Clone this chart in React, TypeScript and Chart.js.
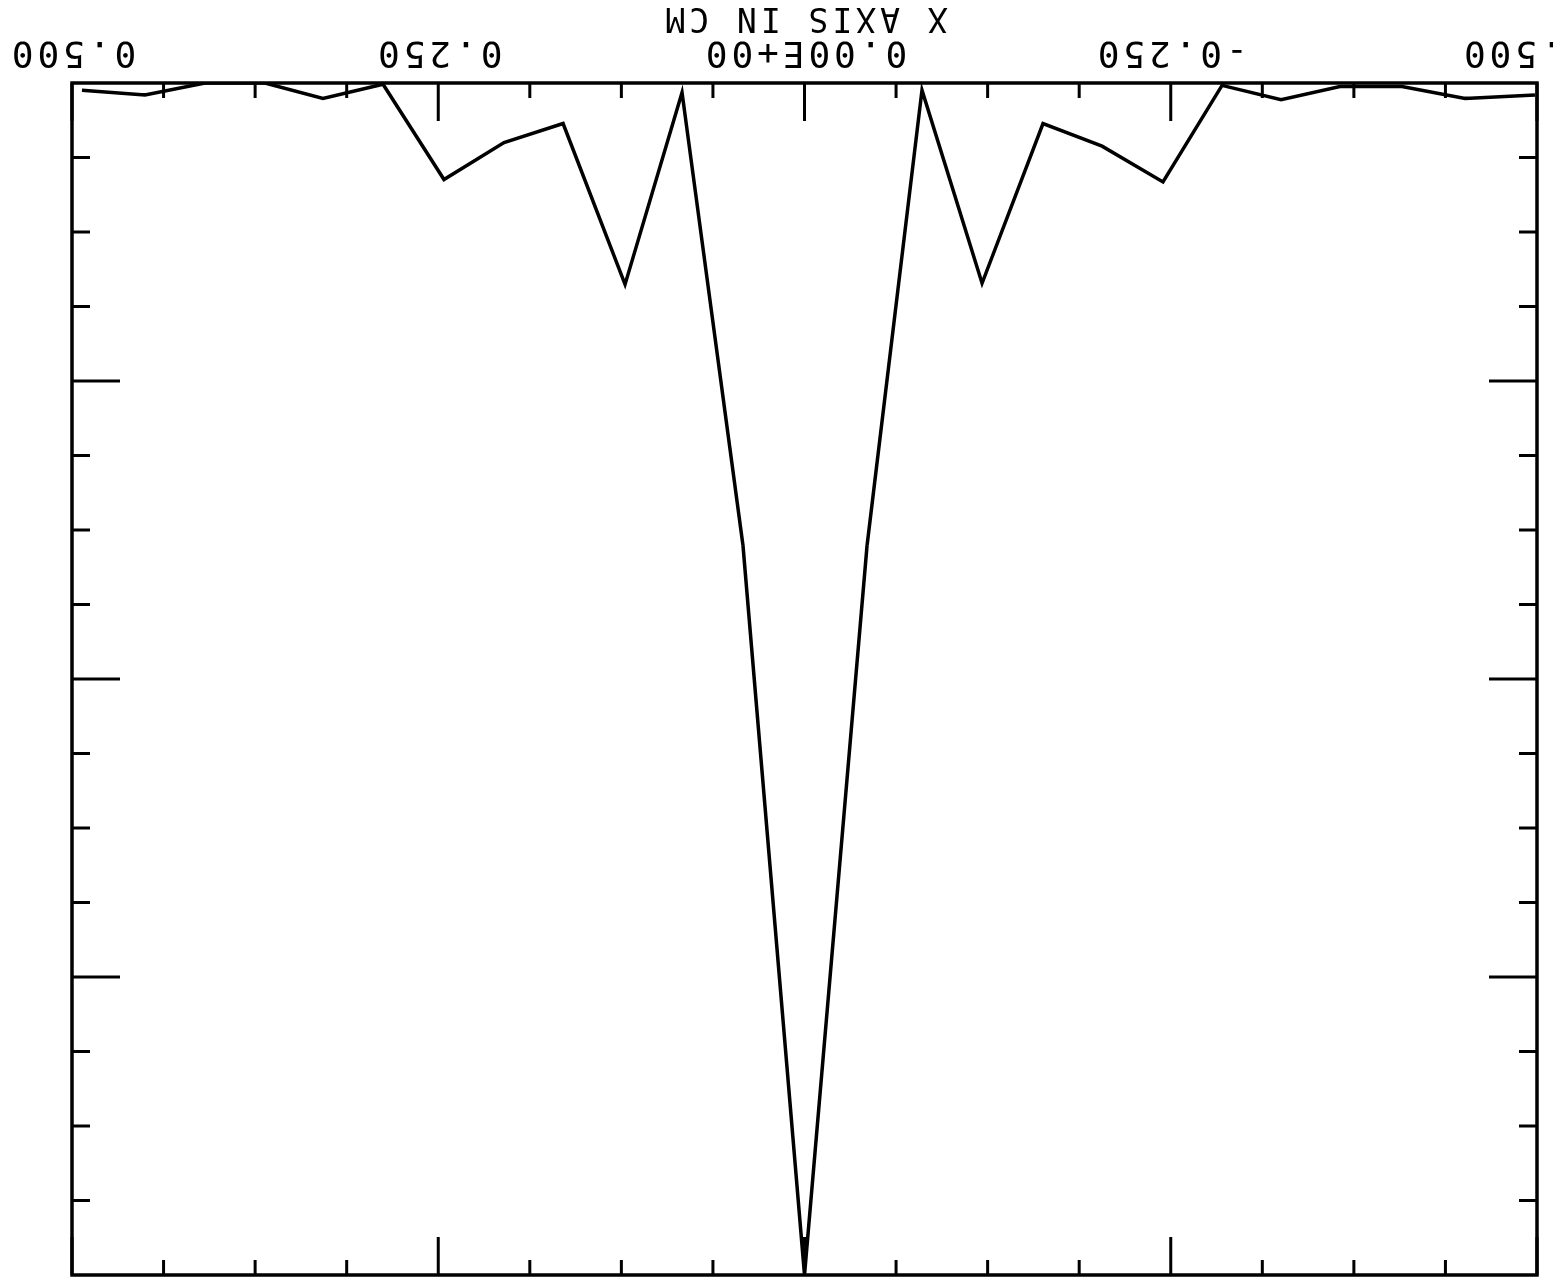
import React, { useEffect, useRef } from 'react';
import { Chart, registerables } from 'chart.js';

Chart.register(...registerables);

// Profile across the x axis (cm) – values read from the (upside-down) plot
const xPositions = [
  -0.4986, -0.4509, -0.4078, -0.3655, -0.3253, -0.285, -0.2447, -0.2031, -0.1628,
  -0.1212, -0.0802, -0.0427, 0.0, 0.042, 0.0836, 0.1225, 0.1648, 0.2051, 0.2461,
  0.2877, 0.3287, 0.3683, 0.4092, 0.4502, 0.4932,
];
const profileValues = [
  0.01, 0.013, 0.003, 0.003, 0.014, 0.002, 0.083, 0.053, 0.034, 0.168, 0.006,
  0.388, 1.0, 0.388, 0.008, 0.169, 0.034, 0.05, 0.081, 0.001, 0.013, 0.0, 0.0,
  0.01, 0.006,
];

const xMajorTicks = [-0.5, -0.25, 0, 0.25, 0.5];
const xTickLabels = ['-0.500', '-0.250', '0.00E+00', '0.250', '0.500'];
const xMinorTicks = [
  -0.4375, -0.375, -0.3125, -0.1875, -0.125, -0.0625, 0.0625, 0.125, 0.1875,
  0.3125, 0.375, 0.4375,
];
const yMajorTicks = [0.25, 0.5, 0.75];
const yMinorTicks = [
  0.0625, 0.125, 0.1875, 0.3125, 0.375, 0.4375, 0.5625, 0.625, 0.6875, 0.8125,
  0.875, 0.9375,
];
const xAxisTitle = 'X AXIS IN CM';

const FONT = "'DejaVu Sans Mono', monospace";

const framePlugin = {
  id: 'frameTicks',
  beforeDraw(chart: any) {
    chart.ctx.letterSpacing = '4px';
  },
  afterDatasetsDraw(chart: any) {
    const { ctx, chartArea: ca } = chart;
    const xs = chart.scales.x;
    const ys = chart.scales.y;
    ctx.save();
    ctx.strokeStyle = '#000';
    ctx.lineCap = 'butt';
    ctx.lineWidth = 3.5;
    ctx.strokeRect(ca.left, ca.top, ca.right - ca.left, ca.bottom - ca.top);
    ctx.lineWidth = 3;
    const xTick = (v: number, len: number) => {
      const px = xs.getPixelForValue(v);
      ctx.beginPath();
      ctx.moveTo(px, ca.bottom);
      ctx.lineTo(px, ca.bottom - len);
      ctx.moveTo(px, ca.top);
      ctx.lineTo(px, ca.top + len);
      ctx.stroke();
    };
    const yTick = (v: number, len: number) => {
      const py = ys.getPixelForValue(v);
      ctx.beginPath();
      ctx.moveTo(ca.left, py);
      ctx.lineTo(ca.left + len, py);
      ctx.moveTo(ca.right, py);
      ctx.lineTo(ca.right - len, py);
      ctx.stroke();
    };
    xMinorTicks.forEach((v) => xTick(v, 15));
    xMajorTicks.forEach((v) => xTick(v, 38));
    yMinorTicks.forEach((v) => yTick(v, 18));
    yMajorTicks.forEach((v) => yTick(v, 48));
    ctx.restore();
  },
};

export default function App() {
  const ref = useRef<HTMLCanvasElement | null>(null);

  useEffect(() => {
    if (!ref.current) return;
    const chart = new Chart(ref.current, {
      type: 'line',
      data: {
        datasets: [
          {
            data: xPositions.map((x, i) => ({ x, y: profileValues[i] })),
            borderColor: '#000',
            borderWidth: 3.5,
            pointRadius: 0,
            tension: 0,
            fill: false,
          },
        ],
      },
      options: {
        responsive: false,
        animation: false,
        events: [],
        layout: { padding: { left: 16, right: 72, top: 8, bottom: 0 } },
        plugins: { legend: { display: false }, tooltip: { enabled: false }, title: { display: false } },
        scales: {
          x: {
            type: 'linear',
            min: -0.5,
            max: 0.5,
            grid: { display: false, drawTicks: false },
            border: { display: false },
            afterBuildTicks: (scale: any) => {
              scale.ticks = xMajorTicks.map((value) => ({ value }));
            },
            afterFit: (scale: any) => {
              scale.height = 83;
              scale.paddingLeft = 0;
              scale.paddingRight = 0;
            },
            ticks: {
              autoSkip: false,
              maxRotation: 0,
              minRotation: 0,
              padding: 10,
              color: '#000',
              font: { family: FONT, size: 36 },
              callback: (value: any) => {
                const i = xMajorTicks.indexOf(Number(value));
                return i >= 0 ? xTickLabels[i] : '';
              },
            },
            title: {
              display: true,
              text: xAxisTitle,
              color: '#000',
              font: { family: FONT, size: 33, lineHeight: 1 },
              padding: { top: 0, bottom: 0 },
            },
          },
          y: {
            type: 'linear',
            min: 0,
            max: 1,
            display: false,
          },
        },
      },
      plugins: [framePlugin],
    } as any);
    return () => chart.destroy();
  }, []);

  return (
    <div style={{ position: 'absolute', left: 0, top: 0, width: 1553, height: 1283, background: '#fff' }}>
      <canvas
        ref={ref}
        width={1553}
        height={1283}
        style={{ display: 'block', width: 1553, height: 1283, transform: 'rotate(180deg)' }}
      />
    </div>
  );
}
